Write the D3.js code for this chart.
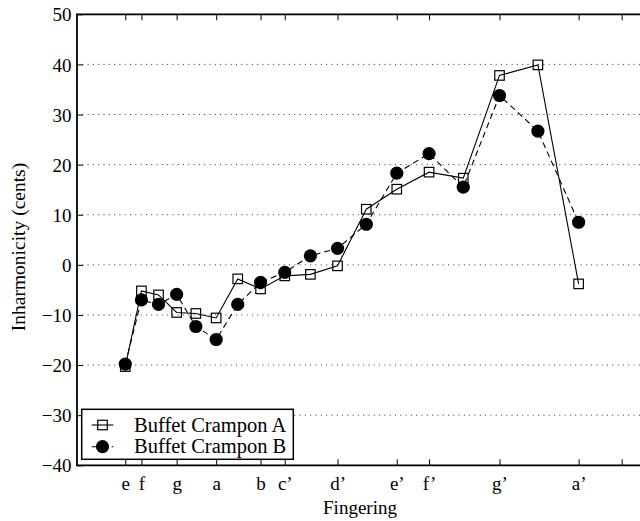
<!DOCTYPE html>
<html>
<head>
<meta charset="utf-8">
<script src="https://cdn.jsdelivr.net/npm/d3@7"></script>
<style>
  html, body { margin: 0; padding: 0; background: #fff; }
  svg { display: block; }
  text { font-family: "Liberation Serif", "Times New Roman", serif; fill: #000; }
</style>
</head>
<body>
<svg id="chart" width="640" height="521"></svg>
<script>
// ---- data ----
// fingering semitone index above low e (x is linear in frequency)
const semitones = [0, 1, 2, 3, 4, 5, 6, 7, 8, 9, 10, 11, 12, 13, 14, 15, 16, 17];
const freqRatio = [1.0000, 1.0595, 1.1225, 1.1892, 1.2599, 1.3348, 1.4142, 1.4983, 1.5874,
                   1.6818, 1.7818, 1.8877, 2.0000, 2.1189, 2.2449, 2.3784, 2.5198, 2.6697];
const seriesA = [-20.3, -5.2, -6.0, -9.5, -9.7, -10.6, -2.8, -4.8, -2.2, -1.9, -0.2, 11.1,
                 15.1, 18.5, 17.3, 37.8, 39.9, -3.8];
const seriesB = [-19.8, -7.0, -7.9, -5.9, -12.3, -14.9, -7.9, -3.5, -1.5, 1.8, 3.3, 8.1,
                 18.3, 22.2, 15.5, 33.8, 26.7, 8.5];
const seriesNames = ["Buffet Crampon A", "Buffet Crampon B"];
const tickRatios = [1.0000, 1.0595, 1.1892, 1.3348, 1.4983, 1.5874, 1.7818, 2.0000, 2.1189, 2.3784, 2.6697, 2.8284];
const tickLabels = ["e", "f", "g", "a", "b", "c\u2019", "d\u2019", "e\u2019", "f\u2019", "g\u2019", "a\u2019", ""];
const yTicks = [50, 40, 30, 20, 10, 0, -10, -20, -30, -40];
const xTitle = "Fingering";
const yTitle = "Inharmonicity (cents)";

// ---- layout ----
const L = 77, R = 660, T = 14.3, B = 465.3;
const svg = d3.select("#chart");
const x = d3.scaleLinear().domain([0.8222, 2.9695]).range([L, R]);
const y = d3.scaleLinear().domain([-40, 50]).range([B, T]);
const fs = 19;

// grid (dotted)
svg.append("g").selectAll("line").data(yTicks.filter(v => v > -40 && v < 50)).join("line")
  .attr("x1", L).attr("x2", 640).attr("y1", d => y(d)).attr("y2", d => y(d))
  .attr("stroke", "#333").attr("stroke-width", 1).attr("stroke-dasharray", "1,4.3");

// x axis bottom
const xAxisB = d3.axisBottom(x).tickValues(tickRatios).tickFormat((d, i) => tickLabels[i])
  .tickSizeInner(-6).tickSizeOuter(0).tickPadding(14);
const gxb = svg.append("g").attr("transform", `translate(0,${B})`).call(xAxisB);
gxb.select(".domain").remove();
gxb.selectAll(".tick line").attr("stroke", "#000").attr("stroke-width", 1);
gxb.selectAll(".tick text").attr("font-size", fs).attr("font-family", "Liberation Serif").attr("dy", "0.55em");

// x axis top (ticks only)
const xAxisT = d3.axisTop(x).tickValues(tickRatios).tickFormat("").tickSizeInner(-6).tickSizeOuter(0);
const gxt = svg.append("g").attr("transform", `translate(0,${T})`).call(xAxisT);
gxt.select(".domain").remove();
gxt.selectAll(".tick line").attr("stroke", "#000").attr("stroke-width", 1);

// y axis
const yAxis = d3.axisLeft(y).tickValues(yTicks).tickFormat(d => d < 0 ? "\u2212" + Math.abs(d) : d)
  .tickSizeInner(-6).tickSizeOuter(0).tickPadding(6);
const gy = svg.append("g").attr("transform", `translate(${L},0)`).call(yAxis);
gy.select(".domain").remove();
gy.selectAll(".tick line").attr("stroke", "#000").attr("stroke-width", 1);
gy.selectAll(".tick text").attr("font-size", fs).attr("font-family", "Liberation Serif").attr("dy", "0.35em")
  .attr("x", -5.5);

// axis frame lines
svg.append("line").attr("x1", L).attr("x2", 641).attr("y1", B).attr("y2", B).attr("stroke", "#000").attr("stroke-width", 1.8);
svg.append("line").attr("x1", L).attr("x2", 641).attr("y1", T).attr("y2", T).attr("stroke", "#000").attr("stroke-width", 1.8);
svg.append("line").attr("x1", L).attr("x2", L).attr("y1", T - 0.9).attr("y2", B + 0.9).attr("stroke", "#000").attr("stroke-width", 1.8);

// titles
svg.append("text").attr("x", 360).attr("y", 514).attr("text-anchor", "middle").attr("font-size", fs).text(xTitle);
svg.append("text").attr("transform", `translate(25,247) rotate(-90)`).attr("text-anchor", "middle")
  .attr("font-size", 19.5).text(yTitle);

// data
const ptsA = freqRatio.map((f, i) => [f, seriesA[i]]);
const ptsB = freqRatio.map((f, i) => [f, seriesB[i]]);
const line = d3.line().x(d => x(d[0])).y(d => y(d[1]));
const sq = 9.5, rc = 6.6;

svg.append("path").attr("d", line(ptsA)).attr("fill", "none").attr("stroke", "#000").attr("stroke-width", 1.1);
svg.append("g").selectAll("rect").data(ptsA).join("rect")
  .attr("x", d => x(d[0]) - sq / 2).attr("y", d => y(d[1]) - sq / 2).attr("width", sq).attr("height", sq)
  .attr("fill", "none").attr("stroke", "#000").attr("stroke-width", 1.2);

svg.append("path").attr("d", line(ptsB)).attr("fill", "none").attr("stroke", "#000").attr("stroke-width", 1.1)
  .attr("stroke-dasharray", "6,4");
svg.append("g").selectAll("circle").data(ptsB).join("circle")
  .attr("cx", d => x(d[0])).attr("cy", d => y(d[1])).attr("r", rc).attr("fill", "#000");

// legend
const lg = svg.append("g");
lg.append("rect").attr("x", 81.7).attr("y", 409.3).attr("width", 211.6).attr("height", 50)
  .attr("fill", "#fff").attr("stroke", "#000").attr("stroke-width", 1.5);
const rows = [425, 446.7];
seriesNames.forEach((name, i) => {
  const ry = rows[i];
  lg.append("line").attr("x1", 91.7).attr("x2", 113.3).attr("y1", ry).attr("y2", ry)
    .attr("stroke", "#000").attr("stroke-width", 1.1).attr("stroke-dasharray", i === 1 ? "6,4" : null);
  if (i === 0) {
    lg.append("rect").attr("x", 102.5 - sq / 2).attr("y", ry - sq / 2).attr("width", sq).attr("height", sq)
      .attr("fill", "none").attr("stroke", "#000").attr("stroke-width", 1.2);
  } else {
    lg.append("circle").attr("cx", 102.5).attr("cy", ry).attr("r", rc).attr("fill", "#000");
  }
  lg.append("text").attr("x", 134).attr("y", ry).attr("dy", "0.33em").attr("font-size", 20.5).text(name);
});
</script>
</body>
</html>
